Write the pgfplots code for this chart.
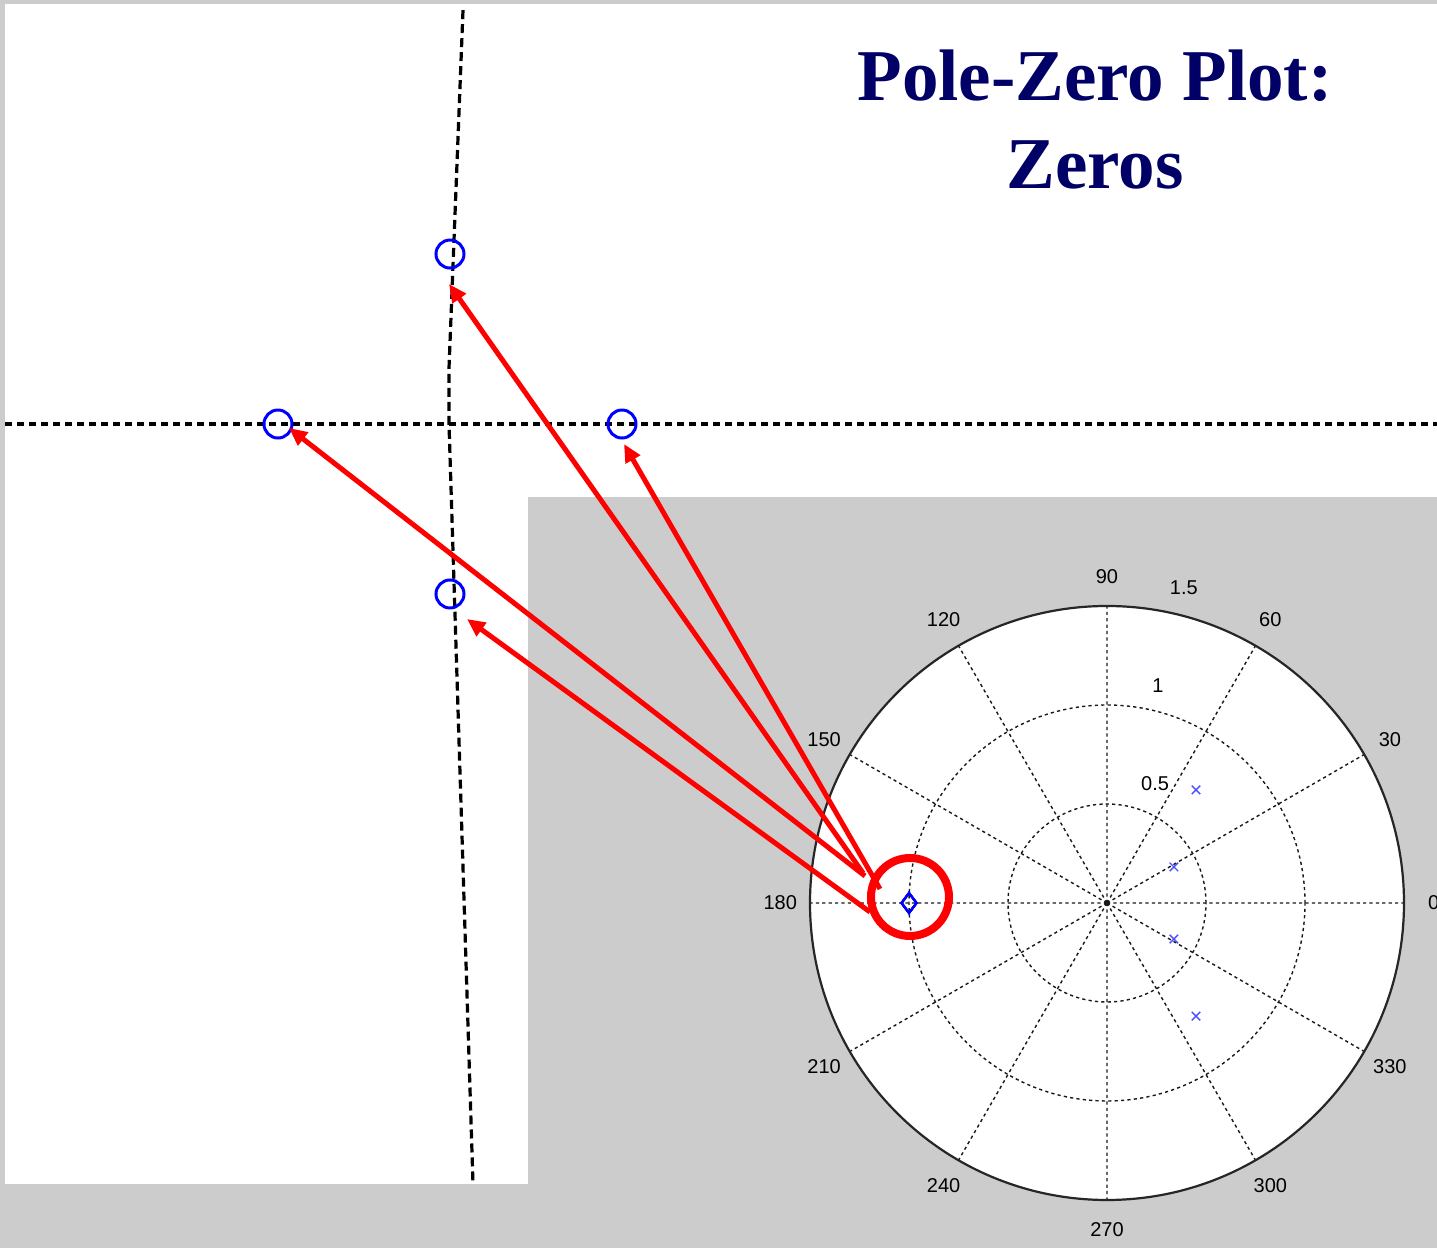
\documentclass[border=0pt]{standalone}
\usepackage{pgfplots}
\pgfplotsset{compat=1.18}
\usepgfplotslibrary{polar}
\usetikzlibrary{arrows.meta}
\usepackage{fontspec}
\setmainfont{Liberation Sans}
\newfontfamily\titlefont{Liberation Serif}
\definecolor{bggray}{HTML}{CCCCCC}
\definecolor{navy}{HTML}{000066}
\definecolor{poleblue}{HTML}{4D4DFF}
\begin{document}
\begin{tikzpicture}
\path[use as bounding box] (0,0) rectangle (718.5pt,624pt);
\clip (0,0) rectangle (718.5pt,624pt);
\fill[bggray] (0,0) rectangle (718.5pt,624pt);
\fill[white] (2.5pt,375.5pt) rectangle (718.5pt,622pt);
\fill[white] (2.5pt,32pt) rectangle (264pt,622pt);

% zoomed view of the zeros
\begin{axis}[at={(2.5pt,32pt)}, anchor=south west, width=716pt, height=590pt,
  scale only axis, xmin=-2.587, xmax=5.738, ymin=-4.471, ymax=2.471,
  hide axis, clip=false]
\addplot[black, line width=1.6pt, dash pattern=on 3.5pt off 2.5pt] coordinates {(-2.587,0) (5.738,0)};
\addplot[black, line width=1.6pt, dash pattern=on 4.5pt off 2.5pt] coordinates {(0.0756,2.435) (-0.0058,0.329) (-0.0058,0) (0.1337,-4.471)};
\addplot[only marks, blue, mark=o, mark size=7pt, line width=1.5pt] coordinates {(-1,0) (1,0) (0,1) (0,-1)};
\end{axis}

% polar pole-zero plot
\fill[white] (553.5pt,172.5pt) circle (148.5pt);
\begin{polaraxis}[at={(553.5pt,172.5pt)}, anchor=center, width=297pt, height=297pt,
  scale only axis, ymin=0, ymax=1.5, xtick={0,30,...,330}, ytick={0.5,1},
  xticklabels=\empty, yticklabels=\empty, tick label style={opacity=0},
  grid=major,
  major grid style={black!90, line width=0.7pt, dash pattern=on 1.6pt off 1.6pt},
  separate axis lines,
  x axis line style={black!85, line width=1.1pt},
  y axis line style={draw=none},
  major tick length=0pt, clip=false,
  every node/.append style={font=\fontsize{13.5}{15}\selectfont}]
\addplot[only marks, blue, mark=diamond, mark size=5pt, line width=1.1pt] coordinates {(180,1) (180,1) (180,1) (180,1)};
\addplot[only marks, poleblue, mark=x, mark size=3pt, line width=0.7pt] coordinates {(51.8,0.727) (28.3,0.384) (-28.3,0.384) (-51.8,0.727)};
\node at (axis cs:0,1.65) {0};
\node at (axis cs:30,1.65) {30};
\node at (axis cs:60,1.65) {60};
\node at (axis cs:90,1.65) {90};
\node at (axis cs:120,1.65) {120};
\node at (axis cs:150,1.65) {150};
\node at (axis cs:180,1.65) {180};
\node at (axis cs:210,1.65) {210};
\node at (axis cs:240,1.65) {240};
\node at (axis cs:270,1.65) {270};
\node at (axis cs:300,1.65) {300};
\node at (axis cs:330,1.65) {330};
\node at (axis cs:68,0.648) {0.5};
\node at (axis cs:76.8,1.126) {1};
\node at (axis cs:76.3,1.638) {1.5};
\end{polaraxis}

% annotations
\draw[red, line width=4pt] (455pt,175.5pt) circle (19.5pt);
\begin{scope}[red, line width=2.5pt, -{Triangle[length=9pt,width=8pt]}]
\draw (431.5pt,187.5pt) -- (224.5pt,482pt);
\draw (432.5pt,186pt) -- (144.5pt,410pt);
\draw (440pt,179.5pt) -- (312pt,402pt);
\draw (435pt,168pt) -- (233.5pt,314.5pt);
\end{scope}

\node[anchor=base, font=\titlefont\bfseries\fontsize{36.5}{40}\selectfont, text=navy, inner sep=0pt] at (547.5pt,573.5pt) {Pole-Zero Plot:};
\node[anchor=base, font=\titlefont\bfseries\fontsize{36.5}{40}\selectfont, text=navy, inner sep=0pt] at (547.5pt,529.5pt) {Zeros};
\end{tikzpicture}
\end{document}
